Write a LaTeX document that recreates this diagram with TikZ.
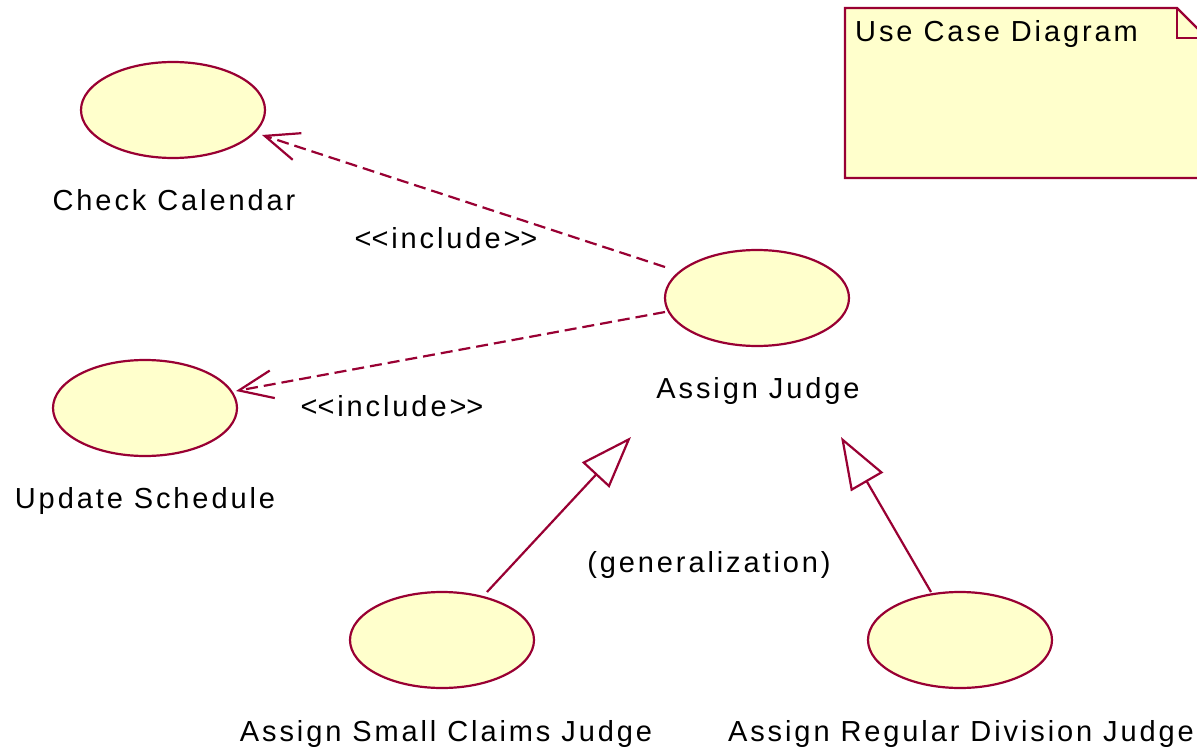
\documentclass[tikz,border=0pt]{standalone}
\usepackage{fontspec}
\setmainfont{Liberation Sans}[LetterSpace=10]
\usetikzlibrary{arrows.meta,shapes.geometric}
\definecolor{umlred}{RGB}{153,0,51}
\definecolor{umlfill}{RGB}{255,255,204}
\newcommand{\incl}{<\kern0pt<include>\kern0pt>}
\tikzset{
  uc/.style={ellipse,draw=umlred,fill=umlfill,line width=2.2pt,minimum width=184pt,minimum height=96pt,inner sep=0pt},
  lbl/.style={font=\fontsize{29pt}{33pt}\selectfont,anchor=base,inner sep=0pt,text=black},
  inc/.style={draw=umlred,line width=2.2pt,dash pattern=on 12pt off 6pt,-{Straight Barb[length=34pt,width=28pt,line width=2.2pt]}},
  gen/.style={draw=umlred,line width=2.2pt,-{Triangle[open,length=52pt,width=37pt,line width=2.2pt,fill=white]}}
}
\begin{document}
\begin{tikzpicture}[x=1pt,y=-1pt]
\useasboundingbox (0,0) rectangle (1197,749);
\clip (0,0) rectangle (1197,749);
\fill[white] (0,0) rectangle (1197,749);
% note
\draw[umlred,fill=umlfill,line width=2.2pt] (845,8) -- (1177,8) -- (1207,38) -- (1207,178) -- (845,178) -- cycle;
\draw[umlred,line width=2.2pt] (1177,8) -- (1177,38) -- (1207,38);
\node[lbl,anchor=base west] (notetext) at (855,42) {Use Case Diagram};
% use cases
\node[uc] (cc) at (173,110) {};
\node[uc] (us) at (145,408) {};
\node[uc] (aj) at (757,298) {};
\node[uc] (sc) at (442,640) {};
\node[uc] (rd) at (960,640) {};
% labels
\node[lbl] (cclbl) at (174,211) {Check Calendar};
\node[lbl] (uslbl) at (145,508) {Update Schedule};
\node[lbl] (ajlbl) at (758,398) {Assign Judge};
\node[lbl] (sclbl) at (446,741) {Assign Small Claims Judge};
\node[lbl] (rdlbl) at (961,741) {Assign Regular Division Judge};
\node[lbl] (inc1) at (446,248) {\incl};
\node[lbl] (inc2) at (392,416) {\incl};
\node[lbl] (genlbl) at (709,572) {(generalization)};
% connector end points
\coordinate (i1s) at (665,267);
\coordinate (i1e) at (262,135);
\coordinate (i2s) at (665,312);
\coordinate (i2e) at (236,391);
\coordinate (g1s) at (487,592);
\coordinate (g1e) at (631,437);
\coordinate (g2s) at (931,592);
\coordinate (g2e) at (841,437);
\draw[inc] (i1s) -- (i1e);
\draw[inc] (i2s) -- (i2e);
\draw[gen] (g1s) -- (g1e);
\draw[gen] (g2s) -- (g2e);
\end{tikzpicture}
\end{document}
